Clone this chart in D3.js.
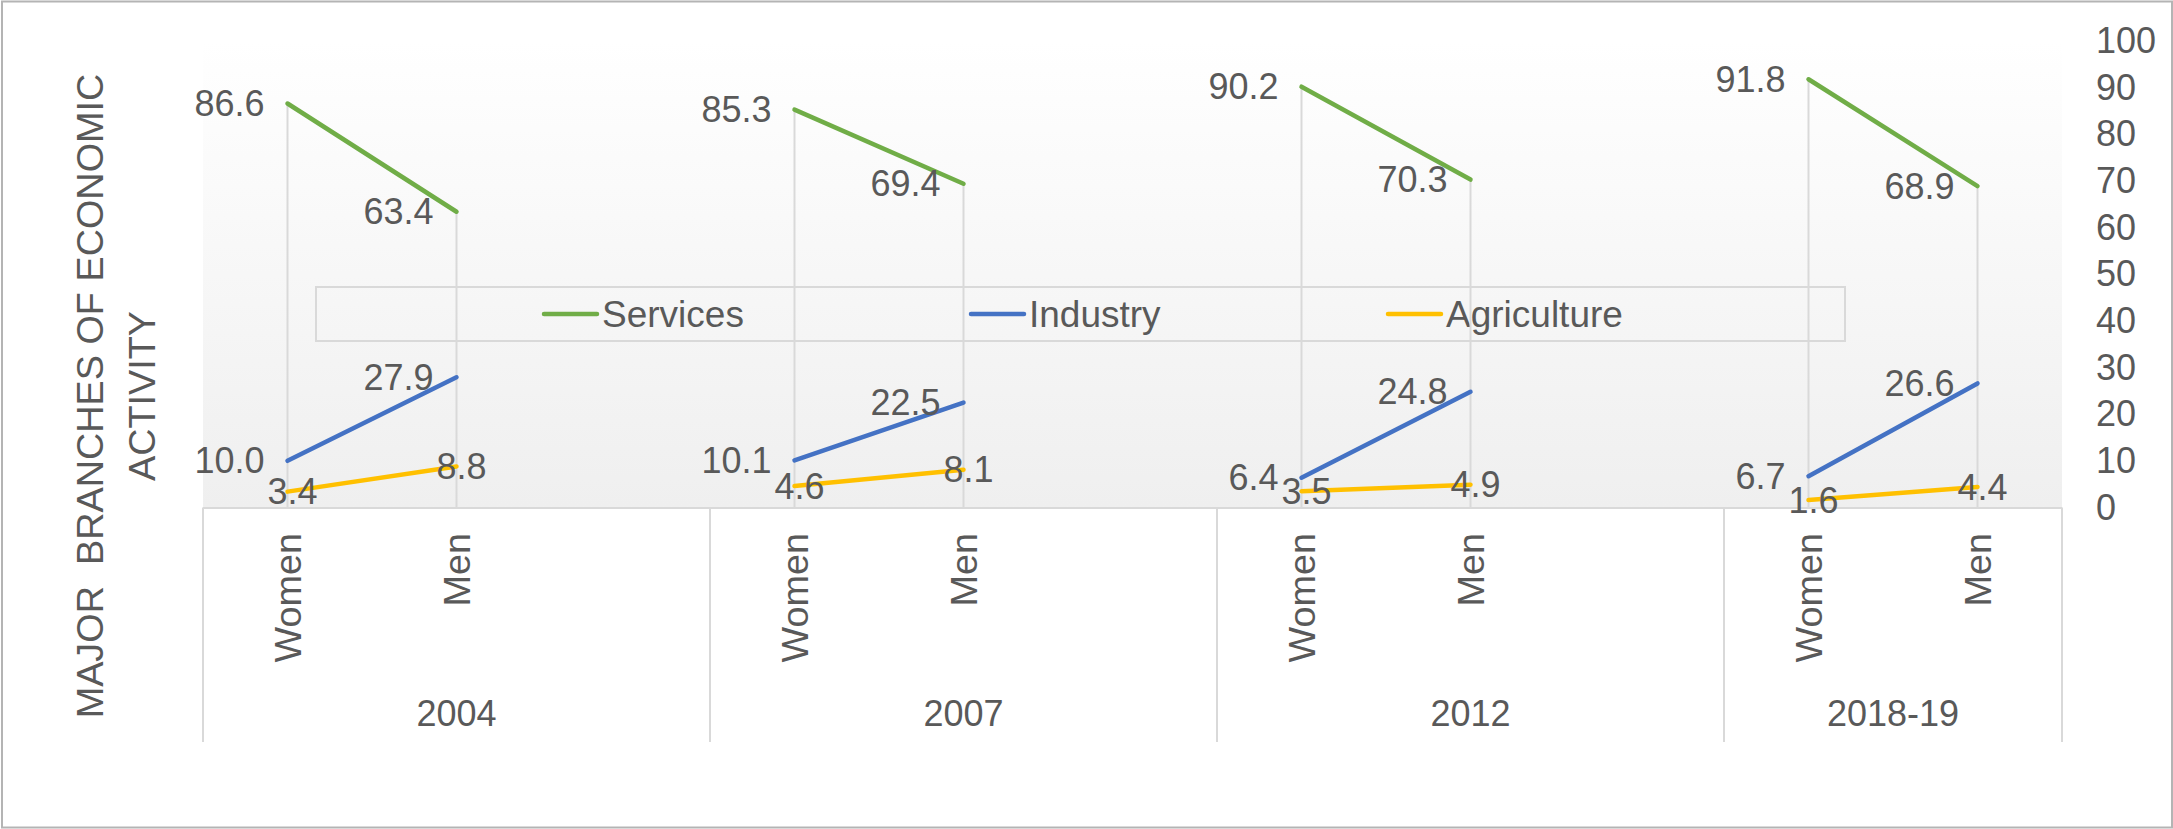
<!DOCTYPE html>
<html>
<head>
<meta charset="utf-8">
<script src="https://cdn.jsdelivr.net/npm/d3@7"></script>
<style>
  html, body { margin: 0; padding: 0; background: #ffffff; }
  svg { display: block; font-family: "Liberation Sans", Arial, sans-serif; }
</style>
</head>
<body>
<svg id="chart" width="2173" height="829"></svg>
<script>
// ---------------- DATA ----------------
const years = ["2004", "2007", "2012", "2018-19"];
const sexes = ["Women", "Men"];
const seriesNames = ["Services", "Industry", "Agriculture"];
const seriesColors = ["#70ad47", "#4472c4", "#ffc000"];
// values per year: [Women, Men]
const services    = [[86.6, 63.4], [85.3, 69.4], [90.2, 70.3], [91.8, 68.9]];
const industry    = [[10.0, 27.9], [10.1, 22.5], [6.4, 24.8], [6.7, 26.6]];
const agriculture = [[3.4, 8.8], [4.6, 8.1], [3.5, 4.9], [1.6, 4.4]];
const yTicks = [0, 10, 20, 30, 40, 50, 60, 70, 80, 90, 100];
const yTitleLines = ["MAJOR  BRANCHES OF ECONOMIC", "ACTIVITY"];

// ---------------- LAYOUT ----------------
const svg = d3.select("#chart");
const W = 2173, H = 829;
const plot = { left: 203, right: 2062, top: 41, bottom: 507.5 };
const textColor = "#595959";
const gridColor = "#d9d9d9";
const fontSize = 36;
const letterSize = 37.8;

// slots: each year has Women, Men and an empty slot (except last)
const slots = [];
years.forEach((y, i) => {
  sexes.forEach(s => slots.push(y + "|" + s));
  if (i < years.length - 1) slots.push(y + "|gap");
});
const x = d3.scaleBand().domain(slots).range([plot.left, plot.right]).padding(0);
const xc = key => x(key) + x.bandwidth() / 2;
const y = d3.scaleLinear().domain([0, 100]).range([plot.bottom, plot.top]);

// defs gradient
const defs = svg.append("defs");
const grad = defs.append("linearGradient").attr("id", "pg")
  .attr("x1", 0).attr("y1", 0).attr("x2", 0).attr("y2", 1);
grad.append("stop").attr("offset", "0%").attr("stop-color", "#ffffff");
grad.append("stop").attr("offset", "100%").attr("stop-color", "#efefef");

// outer border
svg.append("rect").attr("x", 2).attr("y", 1.5).attr("width", W - 3).attr("height", H - 3)
  .attr("fill", "#ffffff").attr("stroke", "#b4b4b4").attr("stroke-width", 2);

// plot area background
svg.append("rect").attr("x", plot.left).attr("y", plot.top)
  .attr("width", plot.right - plot.left).attr("height", plot.bottom - plot.top)
  .attr("fill", "url(#pg)");

// category axis box (multi-level)
const axisBottom = 742;
svg.append("line").attr("x1", plot.left).attr("x2", plot.right)
  .attr("y1", plot.bottom + 0.5).attr("y2", plot.bottom + 0.5)
  .attr("stroke", gridColor).attr("stroke-width", 2);
const groupEdges = years.map(yr => x(yr + "|Women")).concat([plot.right]);
svg.selectAll(".gedge").data(groupEdges).enter().append("line")
  .attr("x1", d => d).attr("x2", d => d)
  .attr("y1", plot.bottom).attr("y2", axisBottom)
  .attr("stroke", gridColor).attr("stroke-width", 2);

// legend box (transparent)
const legend = svg.append("g");
legend.append("rect").attr("x", 316).attr("y", 287).attr("width", 1529).attr("height", 54)
  .attr("fill", "none").attr("stroke", gridColor).attr("stroke-width", 2);
const legendX = [544, 971, 1388];
seriesNames.forEach((name, i) => {
  legend.append("line").attr("x1", legendX[i]).attr("x2", legendX[i] + 53)
    .attr("y1", 314).attr("y2", 314)
    .attr("stroke", seriesColors[i]).attr("stroke-width", 4.5).attr("stroke-linecap", "round");
  legend.append("text").attr("x", legendX[i] + 58).attr("y", 314).attr("dy", "0.35em")
    .attr("font-size", 37).attr("fill", textColor).text(name);
});

// drop lines
years.forEach((yr, i) => {
  sexes.forEach((s, j) => {
    const vmax = Math.max(services[i][j], industry[i][j], agriculture[i][j]);
    svg.append("line").attr("x1", xc(yr + "|" + s)).attr("x2", xc(yr + "|" + s))
      .attr("y1", y(vmax)).attr("y2", plot.bottom)
      .attr("stroke", gridColor).attr("stroke-width", 2);
  });
});

// series lines
const allSeries = [services, industry, agriculture];
const line = d3.line().x(d => d[0]).y(d => d[1]);
allSeries.forEach((ser, k) => {
  years.forEach((yr, i) => {
    const pts = sexes.map((s, j) => [xc(yr + "|" + s), y(ser[i][j])]);
    svg.append("path").attr("d", line(pts)).attr("fill", "none")
      .attr("stroke", seriesColors[k]).attr("stroke-width", 4.5).attr("stroke-linecap", "round");
  });
});

// data labels
allSeries.forEach((ser, k) => {
  years.forEach((yr, i) => {
    sexes.forEach((s, j) => {
      const px = xc(yr + "|" + s), py = y(ser[i][j]);
      const t = svg.append("text").attr("y", py).attr("dy", "0.35em")
        .attr("font-size", fontSize).attr("fill", textColor).text(ser[i][j].toFixed(1));
      if (k === 2) t.attr("x", px + 5).attr("text-anchor", "middle");
      else t.attr("x", px - 23).attr("text-anchor", "end");
    });
  });
});

// category labels (rotated)
years.forEach(yr => {
  sexes.forEach(s => {
    const cx = xc(yr + "|" + s);
    svg.append("text")
      .attr("transform", `translate(${cx},533) rotate(-90)`)
      .attr("dy", "0.35em").attr("text-anchor", "end")
      .attr("font-size", letterSize).attr("fill", textColor).text(s);
  });
  const gx0 = x(yr + "|Women");
  const gEnd = (yr === years[years.length - 1]) ? plot.right : x(yr + "|gap") + x.bandwidth();
  svg.append("text").attr("x", (gx0 + gEnd) / 2).attr("y", 713).attr("dy", "0.35em")
    .attr("text-anchor", "middle").attr("font-size", fontSize).attr("fill", textColor).text(yr);
});

// right value axis
const yAxis = d3.axisRight(y).tickValues(yTicks).tickSize(0).tickPadding(0).tickFormat(d3.format("d"));
const ag = svg.append("g").attr("transform", "translate(2096,0)").call(yAxis);
ag.select(".domain").remove();
ag.selectAll("text").attr("font-size", fontSize).attr("fill", textColor)
  .attr("font-family", "Liberation Sans, Arial, sans-serif");

// axis title (two lines, rotated)
const title = svg.append("text")
  .attr("transform", "translate(103,396) rotate(-90)")
  .attr("text-anchor", "middle").attr("font-size", letterSize).attr("fill", textColor)
  .attr("xml:space", "preserve");
yTitleLines.forEach((ln, i) => {
  title.append("tspan").attr("x", 0).attr("dy", i === 0 ? 0 : 52).text(ln)
    .style("white-space", "pre");
});
</script>
</body>
</html>
